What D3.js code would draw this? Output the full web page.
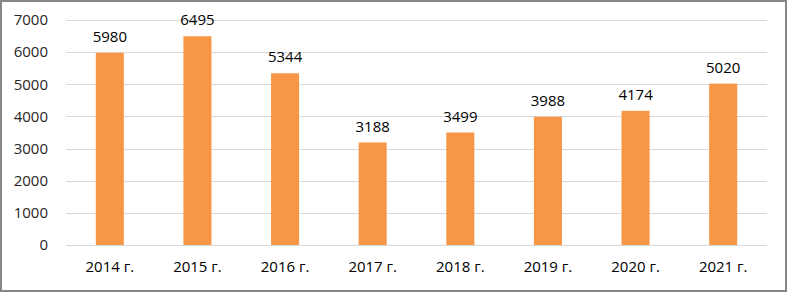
<!DOCTYPE html>
<html>
<head>
<meta charset="utf-8">
<script src="https://cdn.jsdelivr.net/npm/d3@7"></script>
<style>
  body { margin: 0; background: #fff; }
  svg { display: block; font-family: "Open Sans", "Noto Sans", sans-serif; }
</style>
</head>
<body>
<div id="chart"></div>
<script>
// Data
const years = ["2014 г.", "2015 г.", "2016 г.", "2017 г.", "2018 г.", "2019 г.", "2020 г.", "2021 г."];
const counts = [5980, 6495, 5344, 3188, 3499, 3988, 4174, 5020];
const yTicks = [0, 1000, 2000, 3000, 4000, 5000, 6000, 7000];

const width = 787, height = 292;
const margin = { top: 20, right: 20, bottom: 47, left: 66 };

const svg = d3.select("#chart").append("svg")
    .attr("width", width)
    .attr("height", height);

// Outer frame
svg.append("rect")
    .attr("x", 1).attr("y", 1)
    .attr("width", width - 2).attr("height", height - 2)
    .attr("fill", "#fff")
    .attr("stroke", "#868686")
    .attr("stroke-width", 2);

const x = d3.scaleBand()
    .domain(years)
    .range([margin.left, width - margin.right])
    .paddingInner(0.68)
    .paddingOuter(0.34);

const y = d3.scaleLinear()
    .domain([0, 7000])
    .range([height - margin.bottom, margin.top]);

// Gridlines
svg.append("g")
    .selectAll("line")
    .data(yTicks)
    .join("line")
    .attr("x1", margin.left)
    .attr("x2", width - margin.right)
    .attr("y1", d => Math.round(y(d)) + 0.5)
    .attr("y2", d => Math.round(y(d)) + 0.5)
    .attr("stroke", "#d9d9d9")
    .attr("stroke-width", 1);

// Y axis labels
const yAxis = d3.axisLeft(y).tickValues(yTicks).tickFormat(d3.format("d")).tickSize(0).tickPadding(0);
svg.append("g")
    .attr("transform", `translate(${margin.left - 18},0)`)
    .call(yAxis)
    .call(g => g.select(".domain").remove())
    .selectAll("text")
    .attr("font-size", 15)
    .attr("font-family", "Open Sans, Noto Sans, sans-serif")
    .attr("fill", "#262626");

// Bars
svg.append("g")
    .selectAll("rect")
    .data(counts)
    .join("rect")
    .attr("x", (d, i) => x(years[i]))
    .attr("y", d => y(d))
    .attr("width", x.bandwidth())
    .attr("height", d => y(0) - y(d))
    .attr("fill", "#f79646");

// Value labels
svg.append("g")
    .selectAll("text")
    .data(counts)
    .join("text")
    .attr("x", (d, i) => x(years[i]) + x.bandwidth() / 2)
    .attr("y", d => y(d) - 11)
    .attr("text-anchor", "middle")
    .attr("font-size", 15)
    .attr("fill", "#000")
    .text(d => d);

// X axis labels
const xAxis = d3.axisBottom(x).tickSize(0).tickPadding(0);
svg.append("g")
    .attr("transform", `translate(0,${y(0) + 16})`)
    .call(xAxis)
    .call(g => g.select(".domain").remove())
    .selectAll("text")
    .attr("font-size", 15)
    .attr("font-family", "Open Sans, Noto Sans, sans-serif")
    .attr("fill", "#000");
</script>
</body>
</html>
